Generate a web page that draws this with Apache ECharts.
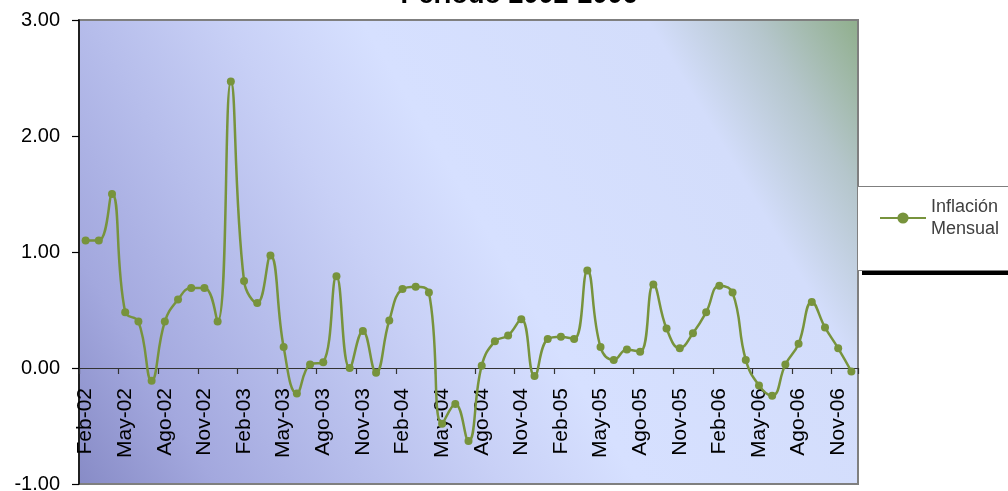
<!DOCTYPE html>
<html>
<head>
<meta charset="utf-8">
<script src="https://cdn.jsdelivr.net/npm/echarts@6/dist/echarts.min.js"></script>
<style>html,body{margin:0;padding:0;background:#fff;}#c{width:1008px;height:491px;}</style>
</head>
<body>
<div id="c"></div>
<script>
var categories = [
  'Feb-02','Mar-02','Abr-02','May-02','Jun-02','Jul-02','Ago-02','Sep-02','Oct-02','Nov-02','Dic-02',
  'Ene-03','Feb-03','Mar-03','Abr-03','May-03','Jun-03','Jul-03','Ago-03','Sep-03','Oct-03','Nov-03','Dic-03',
  'Ene-04','Feb-04','Mar-04','Abr-04','May-04','Jun-04','Jul-04','Ago-04','Sep-04','Oct-04','Nov-04','Dic-04',
  'Ene-05','Feb-05','Mar-05','Abr-05','May-05','Jun-05','Jul-05','Ago-05','Sep-05','Oct-05','Nov-05','Dic-05',
  'Ene-06','Feb-06','Mar-06','Abr-06','May-06','Jun-06','Jul-06','Ago-06','Sep-06','Oct-06','Nov-06','Dic-06'
];
var inflacionMensual = [
  1.10, 1.10, 1.50, 0.48, 0.40, -0.11, 0.40, 0.59, 0.69, 0.69, 0.40,
  2.47, 0.75, 0.56, 0.97, 0.18, -0.22, 0.03, 0.05, 0.79, 0.00, 0.32, -0.04,
  0.41, 0.68, 0.70, 0.65, -0.48, -0.31, -0.63, 0.02, 0.23, 0.28, 0.42, -0.07,
  0.25, 0.27, 0.25, 0.84, 0.18, 0.07, 0.16, 0.14, 0.72, 0.34, 0.17, 0.30,
  0.48, 0.71, 0.65, 0.07, -0.15, -0.24, 0.03, 0.21, 0.57, 0.35, 0.17, -0.03
];
var titleText = 'Período 2002-2006';
var seriesName = 'Inflación Mensual';
var yTicks = { min: -1, max: 3, interval: 1 };

var chart = echarts.init(document.getElementById('c'), null, { renderer: 'canvas' });
var font = 'Liberation Sans, Arial, sans-serif';
chart.setOption({
  animation: false,
  textStyle: { fontFamily: font },
  title: {
    text: titleText,
    left: 519, top: -18, textAlign: 'center', padding: 0,
    textStyle: { fontFamily: font, fontSize: 27, fontWeight: 'bold', color: '#000' }
  },
  graphic: [
    { type: 'rect', z: 1, shape: { x: 862, y: 190, width: 160, height: 85 }, style: { fill: '#000' }, silent: true },
    { type: 'rect', z: 2, shape: { x: 857.5, y: 186.5, width: 160, height: 84 }, style: { fill: '#fff', stroke: '#7f7f7f', lineWidth: 1 }, silent: true }
  ],
  legend: {
    show: true,
    left: 879, top: 185, padding: 0,
    orient: 'vertical',
    itemWidth: 46, itemHeight: 14, itemGap: 0,
    z: 10,
    formatter: function () { return 'Inflación\nMensual'; },
    textStyle: { fontFamily: font, fontSize: 18, lineHeight: 22, color: '#404040', padding: [22, 0, 0, 0] },
    data: [seriesName]
  },
  grid: {
    left: 79, right: 150, top: 20, bottom: 7,
    outerBoundsMode: 'none',
    containLabel: false,
    show: true,
    borderColor: '#7f7f7f', borderWidth: 2,
    backgroundColor: {
      type: 'linear', x: 0, y: 1, x2: 1, y2: 0,
      colorStops: [
        { offset: 0, color: '#878bc6' },
        { offset: 0.13, color: '#a3a8de' },
        { offset: 0.27, color: '#b6bdeb' },
        { offset: 0.4, color: '#c8d0f6' },
        { offset: 0.53, color: '#d6e0ff' },
        { offset: 0.8, color: '#d3ddfb' },
        { offset: 0.9, color: '#b5c6cc' },
        { offset: 1, color: '#8fae8b' }
      ]
    }
  },
  xAxis: {
    type: 'category',
    data: categories,
    boundaryGap: true,
    position: 'bottom',
    offset: 0,
    axisLine: { onZero: false, lineStyle: { color: '#333', width: 1.2 } },
    axisTick: { show: true, interval: 2, length: 6, lineStyle: { color: '#333', width: 1.2 } },
    axisLabel: { interval: 2, rotate: 90, margin: 20, fontSize: 21, color: '#000', fontFamily: font },
    splitLine: { show: false }
  },
  yAxis: {
    type: 'value',
    min: yTicks.min, max: yTicks.max, interval: yTicks.interval,
    axisLine: { show: true, lineStyle: { color: '#000', width: 1.5 } },
    axisTick: { show: true, length: 7, lineStyle: { color: '#000', width: 1.2 } },
    axisLabel: { margin: 19, fontSize: 20, color: '#000', fontFamily: font, formatter: function (v) { return v.toFixed(2); } },
    splitLine: { show: false }
  },
  series: [{
    name: seriesName,
    type: 'line',
    data: inflacionMensual,
    smooth: 0.45,
    symbol: 'circle',
    symbolSize: 8,
    lineStyle: { color: '#77933c', width: 2.5 },
    itemStyle: { color: '#77933c' }
  }]
});
// Move the category axis onto the y = 0 line using the value axis scale.
var zeroY = chart.convertToPixel({ yAxisIndex: 0 }, 0);
var minY = chart.convertToPixel({ yAxisIndex: 0 }, yTicks.min);
chart.setOption({ xAxis: { offset: -(minY - zeroY) } });
</script>
</body>
</html>
